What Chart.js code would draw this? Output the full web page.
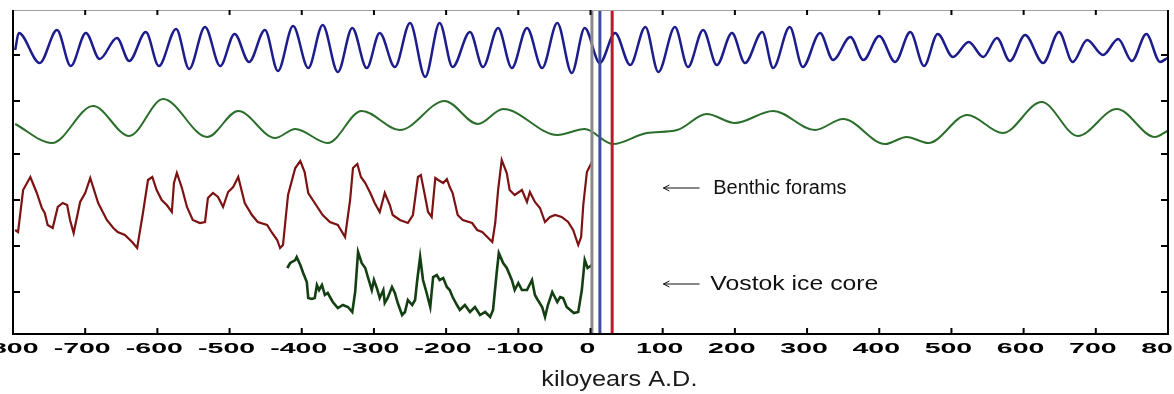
<!DOCTYPE html>
<html>
<head>
<meta charset="utf-8">
<script src="https://cdn.jsdelivr.net/npm/chart.js@4"></script>
<style>
  html, body { margin: 0; padding: 0; background: #fff; }
  #wrap { width: 1174px; height: 394px; }
</style>
</head>
<body>
<div id="wrap"><canvas id="chart" width="1174" height="394"></canvas></div>
<script>
// Орбитальные кривые и палеоданные (условные единицы смещения)

const xTicks = [-800, -700, -600, -500, -400, -300, -200, -100, 0, 100, 200, 300, 400, 500, 600, 700, 800];
const yTicks = [42, 88, 134, 180, 233, 279];

// наклон оси (синяя кривая)
const obliquityYears = [
  -797, -792, -763, -739, -720, -699, -680, -656, -639, -616,
  -598, -574, -556, -534, -513, -493, -473, -451, -433, -412,
  -391, -371, -350, -330, -310, -292, -271, -250, -229, -209,
  -191, -167, -149, -128, -109, -88, -67, -46, -26, -8,
  13, 34, 55, 76, 94, 117, 135, 156, 175, 196,
  214, 238, 253, 276, 294, 318, 336, 360, 378, 400,
  422, 443, 462, 481, 502, 524, 544, 563, 581, 602,
  627, 649, 668, 688, 710, 731, 750, 770, 789, 799
];
const obliquityValues = [
  284, 301, 271, 304, 268, 301, 275, 296, 273, 302,
  268, 305, 265, 307, 268, 300, 272, 304, 263, 308,
  266, 309, 262, 306, 266, 301, 267, 311, 257, 311,
  267, 302, 267, 306, 266, 306, 266, 311, 261, 306,
  271, 301, 269, 307, 262, 307, 267, 304, 269, 301,
  271, 302, 266, 307, 267, 301, 274, 297, 274, 298,
  272, 302, 268, 300, 277, 292, 277, 296, 273, 299,
  271, 302, 272, 294, 279, 295, 273, 300, 272, 276
];

// эксцентриситет (зелёная гладкая кривая)
const eccYears = [
  -797, -746, -689, -639, -592, -531, -488, -437, -409, -364,
  -317, -264, -202, -156, -121, -46, -8, 31, 78, 120,
  161, 200, 253, 311, 350, 408, 438, 468, 522, 571,
  625, 675, 729, 782, 799
];
const eccValues = [
  210, 191, 228, 198, 235, 197, 223, 196, 205, 191,
  223, 204, 233, 210, 225, 199, 205, 190, 201, 204,
  220, 211, 223, 204, 215, 190, 197, 191, 219, 201,
  232, 198, 225, 197, 203
];

// бентосные фораминиферы
const benthicYears = [
  -797, -793, -786, -776, -767, -760, -756, -752, -745, -738,
  -731, -725, -721, -716, -707, -700, -693, -682, -670, -661,
  -655, -645, -635, -628, -620, -613, -607, -601, -594, -587,
  -580, -577, -573, -566, -559, -551, -541, -534, -530, -523,
  -516, -509, -502, -495, -488, -479, -469, -461, -448, -441,
  -434, -430, -426, -419, -409, -402, -396, -391, -382, -371,
  -361, -350, -340, -333, -329, -323, -318, -312, -305, -299,
  -292, -285, -278, -274, -264, -253, -246, -239, -235, -229,
  -225, -220, -215, -211, -204, -199, -195, -191, -184, -177,
  -164, -157, -150, -143, -136, -132, -128, -123, -116, -112,
  -105, -95, -88, -84, -77, -70, -63, -56, -49, -40,
  -31, -24, -17, -13, -10, -5, 2
];
const benthicValues = [
  104, 102, 144, 157, 141, 126, 121, 109, 106, 127,
  131, 129, 114, 101, 132, 141, 156, 131, 114, 106,
  102, 99, 92, 86, 121, 154, 157, 144, 134, 129,
  122, 151, 161, 146, 127, 114, 111, 112, 136, 141,
  137, 127, 142, 147, 157, 131, 119, 112, 109, 101,
  94, 86, 89, 139, 166, 173, 162, 141, 131, 119,
  112, 109, 97, 134, 166, 170, 157, 151, 141, 131,
  122, 141, 129, 119, 114, 111, 119, 157, 159, 137,
  122, 117, 156, 154, 151, 155, 147, 141, 119, 114,
  111, 104, 102, 97, 92, 111, 144, 174, 161, 144,
  139, 144, 132, 142, 132, 126, 112, 117, 119, 117,
  112, 104, 89, 97, 129, 162, 172
];

// ледяной керн Восток
const vostokYears = [
  -420, -416, -409, -407, -402, -398, -393, -391, -386, -382,
  -379, -376, -372, -368, -364, -357, -350, -343, -336, -330,
  -326, -322, -317, -312, -308, -303, -300, -296, -292, -287,
  -285, -281, -275, -271, -267, -261, -257, -253, -247, -243,
  -240, -236, -232, -227, -222, -218, -213, -209, -204, -199,
  -195, -191, -185, -181, -174, -167, -160, -153, -146, -139,
  -135, -130, -127, -121, -116, -109, -105, -100, -95, -88,
  -81, -77, -73, -67, -63, -59, -53, -46, -42, -38,
  -33, -28, -23, -17, -12, -8, -4, 2
];
const vostokValues = [
  66, 71, 74, 77, 69, 61, 52, 36, 35, 36,
  49, 44, 49, 39, 41, 32, 26, 29, 27, 22,
  42, 82, 71, 66, 56, 44, 54, 46, 36, 44,
  31, 36, 47, 41, 31, 19, 22, 34, 29, 34,
  54, 77, 54, 41, 27, 57, 59, 54, 56, 47,
  44, 37, 29, 24, 29, 22, 27, 19, 22, 17,
  24, 61, 81, 71, 66, 54, 44, 51, 44, 44,
  54, 39, 34, 27, 17, 29, 42, 32, 37, 36,
  27, 24, 21, 22, 44, 74, 66, 69
];

// вертикальные метки (тыс. лет)
const markerYears = [2, 13, 30];
const markerColors = ["#8a8a8a", "#3b4f9c", "#c0182a"];

// подписи со стрелками
const notes = [
  { text: "Benthic forams", arrowFrom: 151, arrowTo: 101, textAt: 170, level: 146, size: 20, stretch: 1.0 },
  { text: "Vostok ice core", arrowFrom: 151, arrowTo: 101, textAt: 166, level: 50, size: 21, stretch: 1.18 }
];

function toPoints(xs, ys) {
  return xs.map((x, i) => ({ x, y: ys[i] }));
}

const framePlugin = {
  id: "frame",
  afterDatasetsDraw(chart) {
    const { ctx, chartArea: a, scales } = chart;
    const sx = scales.x;
    const sy = scales.y;
    ctx.save();

    // вертикальные линии
    markerYears.forEach((yr, i) => {
      const px = sx.getPixelForValue(yr);
      ctx.strokeStyle = markerColors[i];
      ctx.lineWidth = 3;
      ctx.beginPath();
      ctx.moveTo(px, a.top);
      ctx.lineTo(px, a.bottom);
      ctx.stroke();
    });

    // рамка
    ctx.strokeStyle = "#a0a0a0";
    ctx.lineWidth = 1;
    ctx.beginPath();
    ctx.moveTo(a.left, a.top + 0.5);
    ctx.lineTo(a.right, a.top + 0.5);
    ctx.stroke();

    ctx.strokeStyle = "#000";
    ctx.lineWidth = 2;
    ctx.beginPath();
    ctx.moveTo(a.left, a.top);
    ctx.lineTo(a.left, a.bottom);
    ctx.lineTo(a.right, a.bottom);
    ctx.lineTo(a.right, a.top);
    ctx.stroke();

    // засечки внутрь
    ctx.beginPath();
    xTicks.forEach(v => {
      const px = sx.getPixelForValue(v);
      ctx.moveTo(px, a.bottom);
      ctx.lineTo(px, a.bottom - 6);
      ctx.moveTo(px, a.top);
      ctx.lineTo(px, a.top + 5);
    });
    yTicks.forEach(v => {
      const py = sy.getPixelForValue(v);
      ctx.moveTo(a.left, py);
      ctx.lineTo(a.left + 7, py);
      ctx.moveTo(a.right, py);
      ctx.lineTo(a.right - 7, py);
    });
    ctx.stroke();

    // подписи оси X (широкий жирный шрифт)
    ctx.fillStyle = "#000";
    ctx.font = "bold 15px 'Liberation Sans', Arial, sans-serif";
    ctx.textAlign = "center";
    ctx.textBaseline = "alphabetic";
    xTicks.forEach(v => {
      const px = sx.getPixelForValue(v) - 3;
      ctx.save();
      ctx.translate(px, a.bottom + 19);
      ctx.scale(1.9, 1);
      ctx.fillText(String(v), 0, 0);
      ctx.restore();
    });

    // название оси
    ctx.fillStyle = "#1a1a1a";
    ctx.font = "22px 'Liberation Sans', Arial, sans-serif";
    ctx.textAlign = "center";
    ctx.save();
    ctx.translate(sx.getPixelForValue(40), a.bottom + 52);
    ctx.scale(1.15, 1);
    ctx.fillText("kiloyears A.D.", 0, 0);
    ctx.restore();

    // стрелки и подписи
    notes.forEach(n => {
      const py = sy.getPixelForValue(n.level);
      const x0 = sx.getPixelForValue(n.arrowFrom);
      const x1 = sx.getPixelForValue(n.arrowTo);
      ctx.strokeStyle = "#111";
      ctx.lineWidth = 1;
      ctx.beginPath();
      ctx.moveTo(x0, py);
      ctx.lineTo(x1, py);
      ctx.moveTo(x1 + 6, py - 3);
      ctx.lineTo(x1, py);
      ctx.lineTo(x1 + 6, py + 3);
      ctx.stroke();
      ctx.fillStyle = "#111";
      ctx.font = n.size + "px 'Liberation Sans', Arial, sans-serif";
      ctx.textAlign = "left";
      ctx.textBaseline = "middle";
      ctx.save();
      ctx.translate(sx.getPixelForValue(n.textAt), py);
      ctx.scale(n.stretch, 1);
      ctx.fillText(n.text, 0, 0);
      ctx.restore();
    });

    ctx.restore();
  }
};

new Chart(document.getElementById("chart").getContext("2d"), {
  type: "line",
  data: {
    datasets: [
      {
        data: toPoints(obliquityYears, obliquityValues),
        borderColor: "#1c1c8c",
        borderWidth: 2.5,
        pointRadius: 0,
        cubicInterpolationMode: "monotone"
      },
      {
        data: toPoints(eccYears, eccValues),
        borderColor: "#2b6e2b",
        borderWidth: 2,
        pointRadius: 0,
        cubicInterpolationMode: "monotone"
      },
      {
        data: toPoints(benthicYears, benthicValues),
        borderColor: "#7c1212",
        borderWidth: 2.2,
        pointRadius: 0,
        tension: 0
      },
      {
        data: toPoints(vostokYears, vostokValues),
        borderColor: "#133f13",
        borderWidth: 2.6,
        pointRadius: 0,
        tension: 0
      }
    ]
  },
  options: {
    responsive: false,
    animation: false,
    events: [],
    layout: {
      padding: { left: 13, right: 6, top: 10, bottom: 60 }
    },
    plugins: {
      legend: { display: false },
      tooltip: { enabled: false }
    },
    scales: {
      x: { type: "linear", min: -800, max: 800, display: false },
      y: { type: "linear", min: 0, max: 324, display: false }
    }
  },
  plugins: [framePlugin]
});
</script>
</body>
</html>
